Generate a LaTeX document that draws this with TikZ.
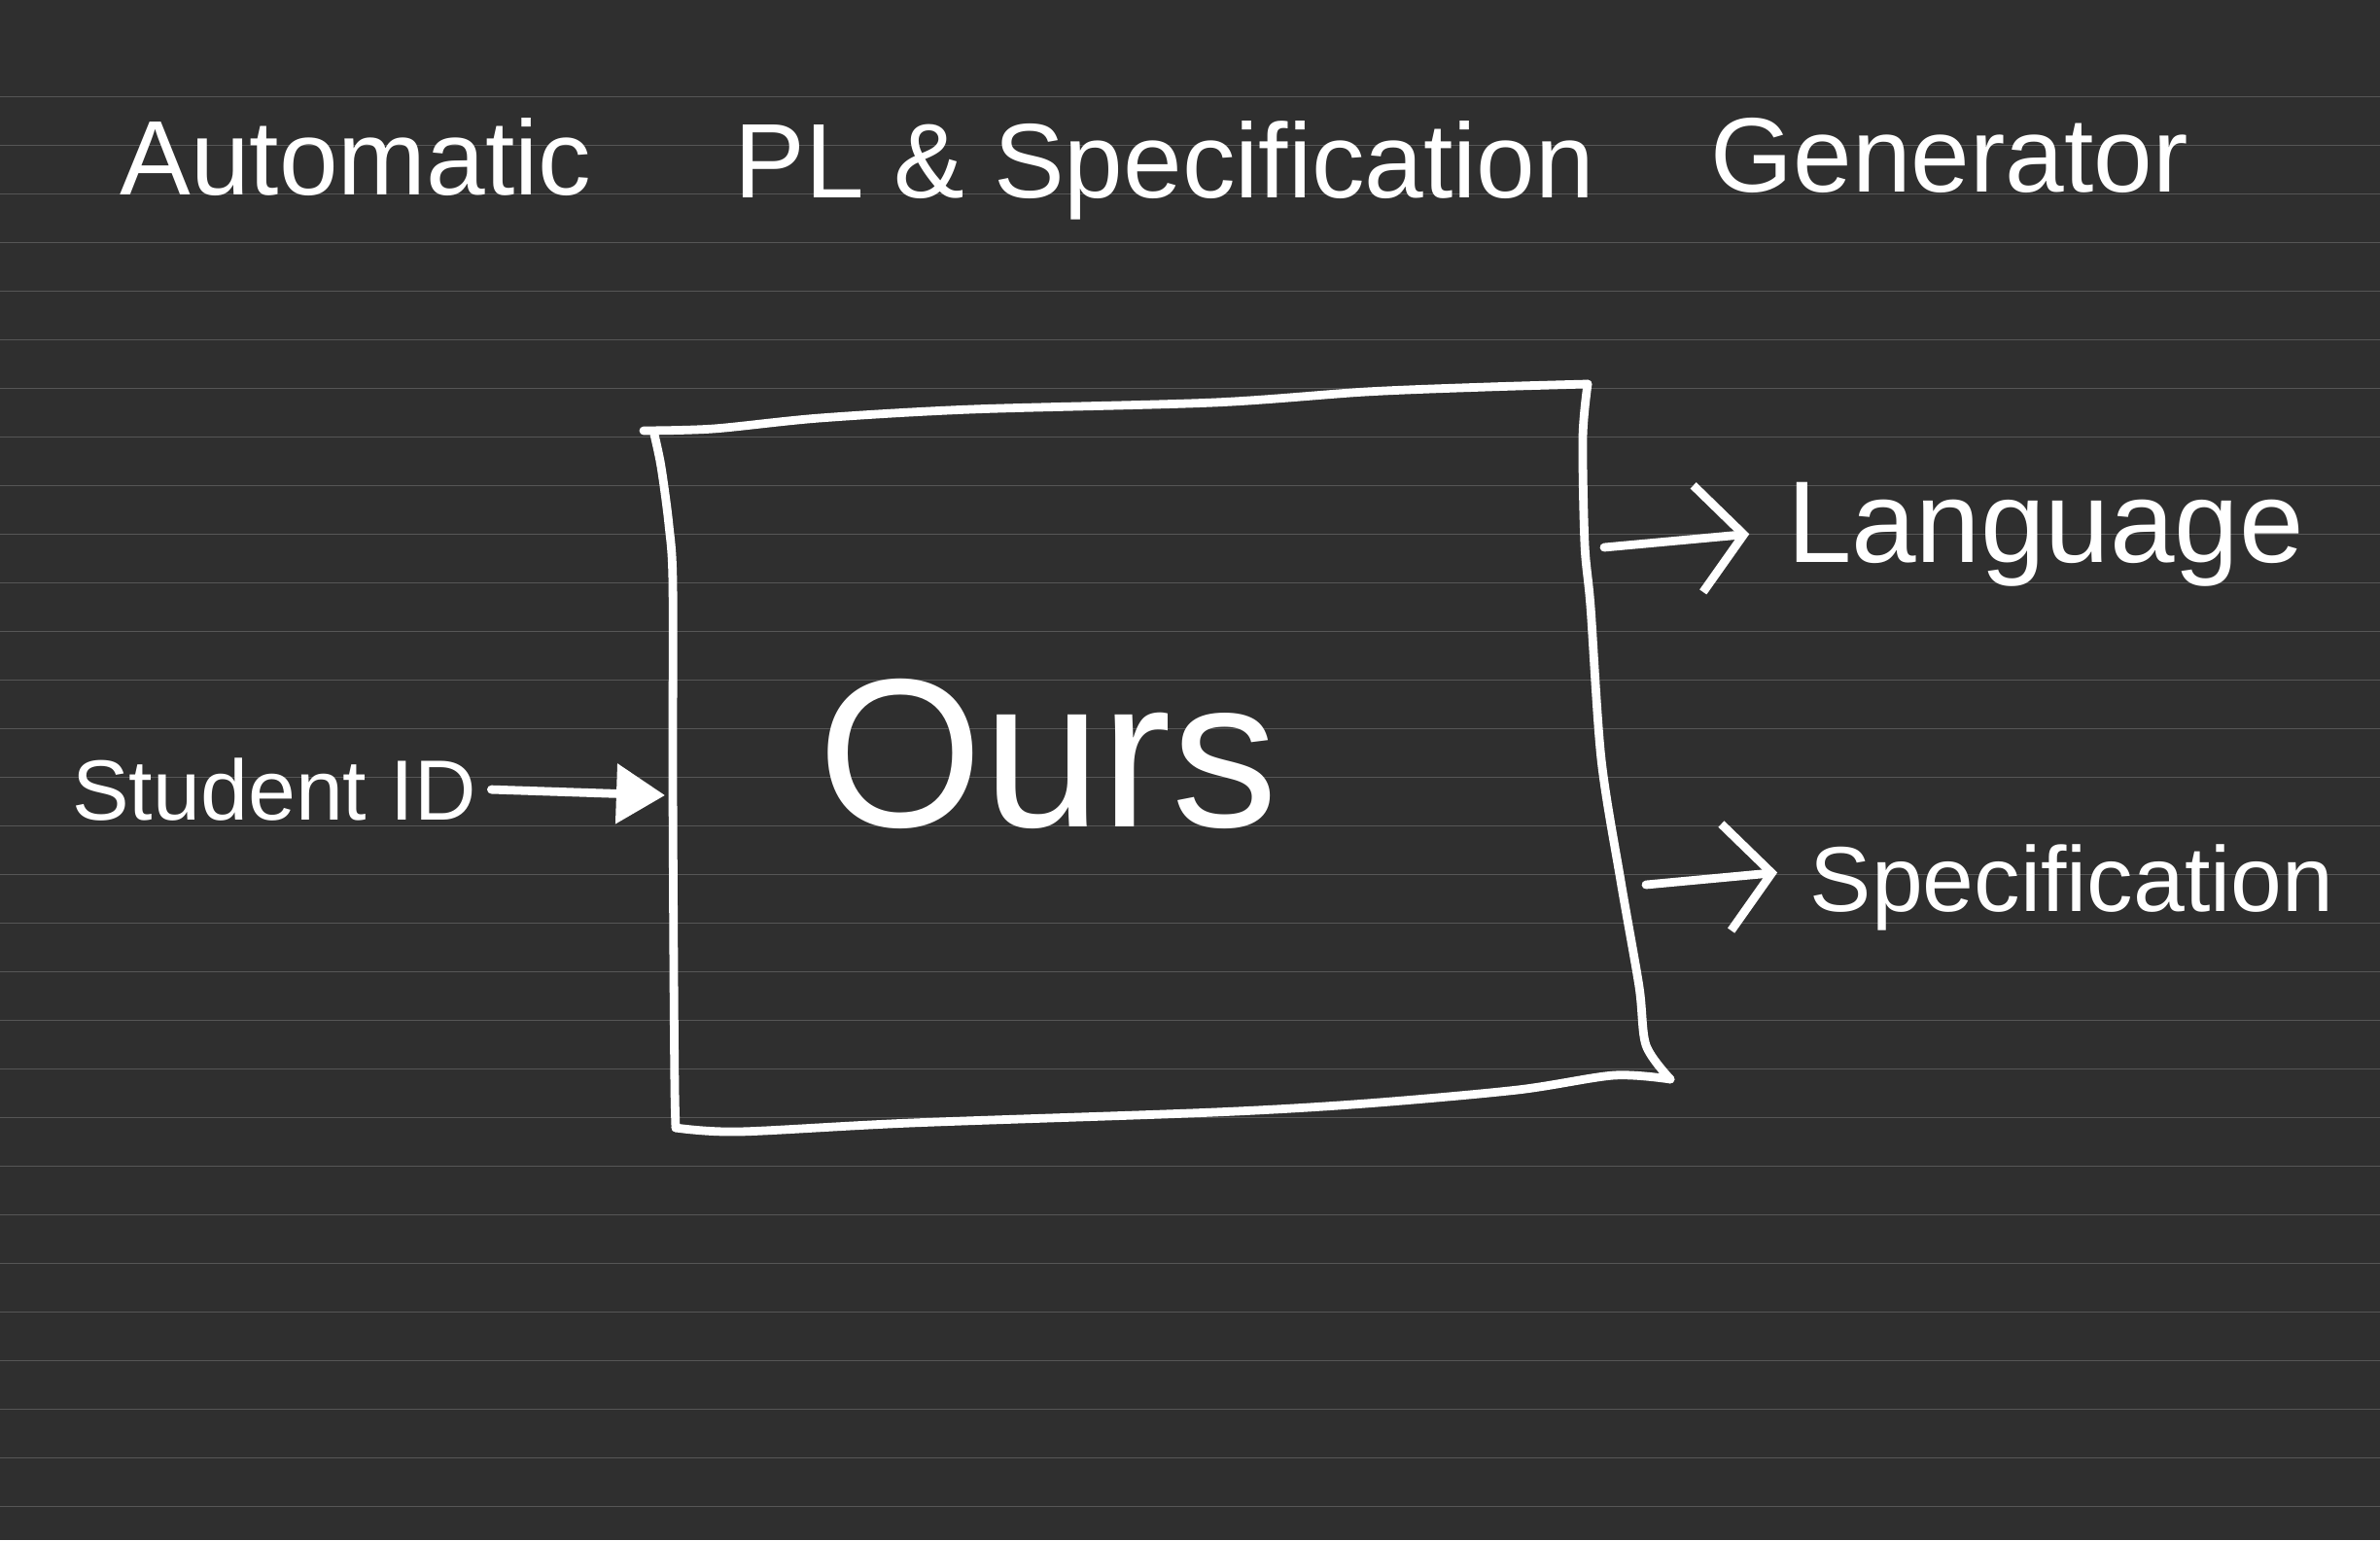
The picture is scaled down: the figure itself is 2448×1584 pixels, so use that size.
\documentclass[tikz,border=0pt]{standalone}
\usepackage{fontspec}
\setmainfont{Liberation Sans}
\usetikzlibrary{arrows.meta}
\definecolor{board}{HTML}{2F2F2F}
\definecolor{ruling}{HTML}{565656}

\begin{document}
\begin{tikzpicture}[x=0.01cm,y=-0.01cm,
    pen/.style={draw=white, line width=2.5pt, line cap=round, line join=round},
    heading/.style={text=white, font=\fontsize{31}{37}\selectfont, anchor=base, inner sep=0pt},
    txt/.style={text=white, anchor=base, inner sep=0pt},
    barb/.style={pen, -{Straight Barb[length=0.47cm,width=1.1cm]}}]
        % Board and ruled lines
        \useasboundingbox (0,0) rectangle (2448,1584);
        \fill[board] (0,0) rectangle (2448,1584);
        \foreach \k in {0,...,29}
            \draw[ruling, line width=0.45pt] (0,{99.5+50*\k}) -- (2448,{99.5+50*\k});

        % Title
        \node[heading] (auto) at (366,200) {Automatic};
        \node[heading] (plspec) at (1198,203) {PL \& Specification};
        \node[heading] (gen) at (2005,197) {Generator};

        % Box corners
        \coordinate (tl) at (662,443);
        \coordinate (tr) at (1633,395);
        \coordinate (br) at (1718,1110);
        \coordinate (bl) at (695,1160);

        % Box (hand drawn)
        \draw[pen] plot[smooth, tension=0.5] coordinates {(tl) (734,441) (843,430) (999,421) (1249,414) (1405,403) (1530,398) (tr)};
        \draw[pen] plot[smooth, tension=0.5] coordinates {(tr) (1628,450) (1630,560) (1636,624) (1647,781) (1667,906) (1686,1015) (1693,1075) (br)};
        \draw[pen] plot[smooth, tension=0.5] coordinates {(br) (1660,1106) (1561,1121) (1405,1135) (1249,1144) (937,1155) (760,1164) (bl)};
        \draw[pen] plot[smooth, tension=0.5] coordinates {(bl) (694,1120) (693,1000) (692,800) (692,600) (688,540) (680,480) (673,447)};

        % Box content
        \node[txt, font=\fontsize{62}{70}\selectfont] (ours) at (1078,850) {Ours};

        % Input
        \node[txt, font=\fontsize{25}{30}\selectfont] (sid) at (282,843) {Student ID};
        \coordinate (inL) at (684,818);
        \draw[pen, shorten <=0.15cm, -{Triangle[length=0.5cm,width=0.6cm]}] (sid.east) -- (inL);

        % Outputs
        \node[txt, font=\fontsize{34}{40}\selectfont] (lang) at (2104,578) {Language};
        \node[txt, font=\fontsize{27}{32}\selectfont] (spec) at (2131,937) {Specification};
        \coordinate (outA) at (1650,563);
        \coordinate (outB) at (1693,910);
        \draw[barb] (outA) -- ([xshift=-0.38cm]lang.west);
        \draw[barb] (outB) -- ([xshift=-0.33cm,yshift=0.15cm]spec.west);
\end{tikzpicture}
\end{document}
